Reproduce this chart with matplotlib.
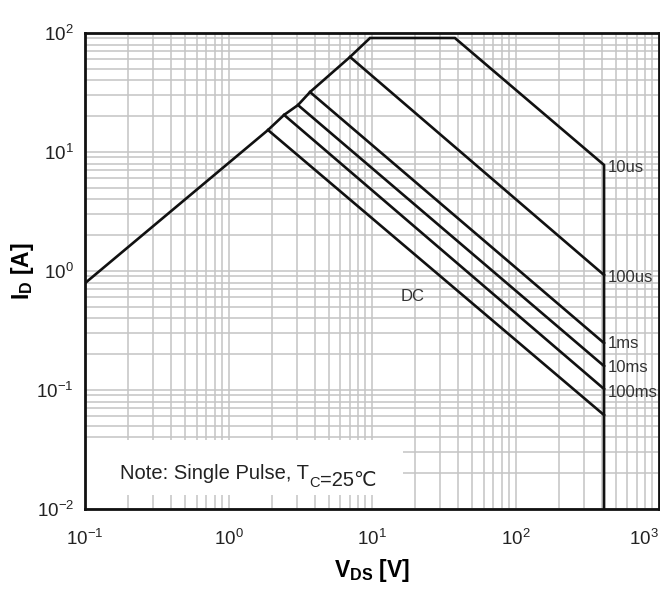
import numpy as np
import matplotlib
matplotlib.use('Agg')
import matplotlib.pyplot as plt
from matplotlib.ticker import LogLocator, NullFormatter, FixedLocator, FixedFormatter
from matplotlib.patches import Rectangle

plt.rcParams['font.family'] = ['Liberation Sans', 'DejaVu Sans']
plt.rcParams['mathtext.fontset'] = 'custom'
plt.rcParams['mathtext.rm'] = 'Liberation Sans'
plt.rcParams['mathtext.it'] = 'Liberation Sans:italic'
plt.rcParams['mathtext.bf'] = 'Liberation Sans:bold'

# Rds(on) limit + current limit + power limit + voltage limit
env_v = [0.1, 1.885, 2.44, 3.05, 3.70, 7.03, 9.69, 37.8, 414, 414]
env_i = [0.79, 15.3, 20.5, 24.8, 31.9, 62.9, 90.8, 90.8, 7.78, 0.01]

# pulse-width lines: start on the Rds(on) line, end on the Vds limit
pulse_names = ['100us', '1ms', '10ms', '100ms', 'DC']
pulse_v0 = [7.03, 3.70, 3.05, 2.44, 1.885]
pulse_i0 = [62.9, 31.9, 24.8, 20.5, 15.3]
pulse_v1 = [414, 414, 414, 414, 414]
pulse_i1 = [0.926, 0.248, 0.159, 0.102, 0.0616]

# curve labels on the right edge
lab_names = ['10us', '100us', '1ms', '10ms', '100ms']
lab_v = [442, 442, 442, 442, 442]
lab_i = [7.35, 0.89, 0.248, 0.156, 0.096]

x_ticks = [0.1, 1, 10, 100, 1000]
x_labels = [r'$10^{-1}$', r'$10^{0}$', r'$10^{1}$', r'$10^{2}$', r'$10^{3}$']
y_ticks = [0.01, 0.1, 1, 10, 100]
y_labels = [r'$10^{-2}$', r'$10^{-1}$', r'$10^{0}$', r'$10^{1}$', r'$10^{2}$']

fig = plt.figure(figsize=(6.6, 6.07), dpi=100)
ax = fig.add_axes([85/660, 1-509/607, 574/660, 476/607])

ax.set_xscale('log')
ax.set_yscale('log')
ax.set_xlim(0.1, 1000)
ax.set_ylim(0.01, 100)

# last x label is drawn by hand so it stays inside the figure
ax.xaxis.set_major_locator(FixedLocator(x_ticks))
ax.xaxis.set_major_formatter(FixedFormatter(x_labels[:-1] + ['']))
ax.yaxis.set_major_locator(FixedLocator(y_ticks))
ax.yaxis.set_major_formatter(FixedFormatter(y_labels))
ax.xaxis.set_minor_locator(LogLocator(base=10, subs=np.arange(2, 10), numticks=20))
ax.yaxis.set_minor_locator(LogLocator(base=10, subs=np.arange(2, 10), numticks=20))
ax.xaxis.set_minor_formatter(NullFormatter())
ax.yaxis.set_minor_formatter(NullFormatter())

ax.grid(True, which='both', color='#c4c4c4', lw=1.1)
ax.set_axisbelow(True)
ax.tick_params(which='both', length=0, labelsize=13.5, colors='#222222')
ax.tick_params(axis='x', pad=14)
ax.tick_params(axis='y', pad=8)

ax.annotate(x_labels[-1], xy=(x_ticks[-1], 0), xycoords=('data', 'axes fraction'),
            xytext=(0, -14), textcoords='offset points', ha='right', va='top',
            fontsize=13.5, color='#222222', annotation_clip=False)

for s in ax.spines.values():
    s.set_linewidth(2.0)
    s.set_color('#111111')

ax.plot(env_v, env_i, color='#111111', lw=1.9, solid_joinstyle='miter')
for k in range(len(pulse_names)):
    ax.plot([pulse_v0[k], pulse_v1[k]], [pulse_i0[k], pulse_i1[k]],
            color='#111111', lw=1.9)

for name, v, i in zip(lab_names, lab_v, lab_i):
    ax.text(v, i, name, fontsize=12, color='#333333', va='center', ha='left')
ax.text(19.3, 0.605, 'DC', fontsize=12, color='#333333', va='center', ha='center')

# white box behind the note
ax.add_patch(Rectangle((0, 0.029), 0.554, 0.116, transform=ax.transAxes,
                       facecolor='white', edgecolor='none', zorder=1.5))
t1 = ax.text(0.061, 0.062, 'Note: Single Pulse, T', transform=ax.transAxes,
             fontsize=14.5, color='#222222', va='baseline', ha='left', zorder=3)
t2 = ax.annotate('C', xy=(1, 0), xycoords=t1, xytext=(0, -2.5),
                 textcoords='offset points', fontsize=10.5, color='#222222',
                 va='baseline', ha='left', zorder=3)
ax.annotate('=25℃', xy=(1, 0), xycoords=t2, xytext=(0, 2.5),
            textcoords='offset points', fontsize=14.5, color='#222222',
            va='baseline', ha='left', zorder=3)

ax.set_xlabel(r'$\mathbf{V_{DS}}$ [V]', fontsize=16.5, fontweight='bold', labelpad=6)
ax.set_ylabel(r'$\mathbf{I_D}$ [A]', fontsize=16.5, fontweight='bold', labelpad=0)

fig.savefig('out.png', dpi=100)
